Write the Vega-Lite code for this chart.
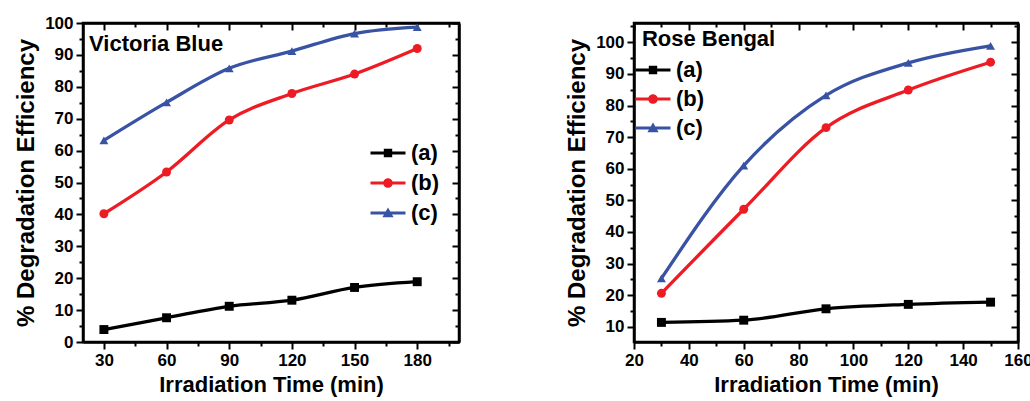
{
  "$schema": "https://vega.github.io/schema/vega-lite/v6.json",
  "autosize": {"type": "pad"},
  "padding": {"left": 13, "top": 12, "right": 0, "bottom": 0},
  "background": "white",
  "datasets": {
    "d": [
      {"dye": "VB", "series": "(a)", "time": 30, "eff": 3.9},
      {"dye": "VB", "series": "(a)", "time": 60, "eff": 7.6},
      {"dye": "VB", "series": "(a)", "time": 90, "eff": 11.2},
      {"dye": "VB", "series": "(a)", "time": 120, "eff": 13.1},
      {"dye": "VB", "series": "(a)", "time": 150, "eff": 17.1},
      {"dye": "VB", "series": "(a)", "time": 180, "eff": 18.9},
      {"dye": "VB", "series": "(b)", "time": 30, "eff": 40.2},
      {"dye": "VB", "series": "(b)", "time": 60, "eff": 53.3},
      {"dye": "VB", "series": "(b)", "time": 90, "eff": 69.6},
      {"dye": "VB", "series": "(b)", "time": 120, "eff": 77.9},
      {"dye": "VB", "series": "(b)", "time": 150, "eff": 84.0},
      {"dye": "VB", "series": "(b)", "time": 180, "eff": 92.0},
      {"dye": "VB", "series": "(c)", "time": 30, "eff": 63.2},
      {"dye": "VB", "series": "(c)", "time": 60, "eff": 75.1},
      {"dye": "VB", "series": "(c)", "time": 90, "eff": 85.8},
      {"dye": "VB", "series": "(c)", "time": 120, "eff": 91.2},
      {"dye": "VB", "series": "(c)", "time": 150, "eff": 96.7},
      {"dye": "VB", "series": "(c)", "time": 180, "eff": 98.7},
      {"dye": "RB", "series": "(a)", "time": 30, "eff": 11.4},
      {"dye": "RB", "series": "(a)", "time": 60, "eff": 12.1},
      {"dye": "RB", "series": "(a)", "time": 90, "eff": 15.7},
      {"dye": "RB", "series": "(a)", "time": 120, "eff": 17.1},
      {"dye": "RB", "series": "(a)", "time": 150, "eff": 17.8},
      {"dye": "RB", "series": "(b)", "time": 30, "eff": 20.6},
      {"dye": "RB", "series": "(b)", "time": 60, "eff": 47.2},
      {"dye": "RB", "series": "(b)", "time": 90, "eff": 73.0},
      {"dye": "RB", "series": "(b)", "time": 120, "eff": 84.9},
      {"dye": "RB", "series": "(b)", "time": 150, "eff": 93.7},
      {"dye": "RB", "series": "(c)", "time": 30, "eff": 25.3},
      {"dye": "RB", "series": "(c)", "time": 60, "eff": 61.0},
      {"dye": "RB", "series": "(c)", "time": 90, "eff": 83.2},
      {"dye": "RB", "series": "(c)", "time": 120, "eff": 93.5},
      {"dye": "RB", "series": "(c)", "time": 150, "eff": 98.9}
    ]
  },
  "config": {
    "font": "Liberation Sans",
    "view": {"stroke": "#000", "strokeWidth": 2.5},
    "axis": {
      "grid": false,
      "domainColor": "#000",
      "domainWidth": 2.5,
      "tickColor": "#000",
      "tickWidth": 2,
      "labelFont": "Liberation Sans",
      "labelFontSize": 17,
      "labelFontWeight": "bold",
      "labelColor": "#000",
      "titleFont": "Liberation Sans",
      "titleFontWeight": "bold",
      "titleColor": "#000",
      "labelPadding": 3,
      "labelFlush": false,
      "labelOverlap": false
    },
    "axisX": {"titleFontSize": 22, "titlePadding": 6},
    "axisY": {"titleFontSize": 24, "titlePadding": 6},
    "legend": {
      "title": null,
      "padding": 0,
      "symbolSize": 306,
      "labelOffset": 12,
      "labelFont": "Liberation Sans",
      "labelFontSize": 22,
      "labelFontWeight": "bold",
      "labelColor": "#000",
      "symbolStrokeWidth": 0,
      "symbolOpacity": 1
    }
  },
  "spacing": 102,
  "resolve": {"scale": {"x": "independent", "y": "independent", "color": "independent", "shape": "independent"}},
  "hconcat": [
    {
      "width": 376,
      "height": 319,
      "data": {"name": "d"},
      "resolve": {"axis": {"x": "independent", "y": "independent"}, "scale": {"shape": "independent", "color": "independent"}},
      "layer": [
        {
          "transform": [{"filter": "datum.dye == 'VB'"}],
          "mark": {"type": "line", "interpolate": "monotone", "strokeWidth": 3.3},
          "encoding": {
            "x": {"field": "time", "type": "quantitative", "scale": {"domain": [20, 200], "nice": false, "zero": false},
              "axis": {"title": "Irradiation Time (min)", "values": [30,45,60,75,90,105,120,135,150,165,180,195],
                "labelExpr": "datum.value % 30 === 0 ? datum.label : ''",
                "tickSize": {"condition": {"test": "datum.value % 30 === 0", "value": 7}, "value": 4}}},
            "y": {"field": "eff", "type": "quantitative", "scale": {"domain": [0, 100], "nice": false},
              "axis": {"title": "% Degradation Efficiency", "values": [0,5,10,15,20,25,30,35,40,45,50,55,60,65,70,75,80,85,90,95,100],
                "labelExpr": "datum.value % 10 === 0 ? datum.label : ''",
                "tickSize": {"condition": {"test": "datum.value % 10 === 0", "value": 7}, "value": 4}}},
            "color": {"field": "series", "type": "nominal",
              "scale": {"domain": ["(a)", "(b)", "(c)"], "range": ["#000000", "#ed1c24", "#3953a4"]},
              "legend": null}
          }
        },
        {
          "transform": [{"filter": "datum.dye == 'VB'"}],
          "mark": {"type": "point", "filled": true, "size": 80, "opacity": 1},
          "encoding": {
            "x": {"field": "time", "type": "quantitative", "axis": null},
            "y": {"field": "eff", "type": "quantitative", "axis": null},
            "color": {"field": "series", "type": "nominal",
              "scale": {"domain": ["(a)", "(b)", "(c)"], "range": ["#000000", "#ed1c24", "#3953a4"]}, "legend": null},
            "shape": {"field": "series", "type": "nominal",
              "scale": {"domain": ["(a)", "(b)", "(c)"], "range": ["square", "circle", "triangle-up"]}, "legend": null}
          }
        },
        {
          "transform": [{"filter": "datum.dye == 'none'"}],
          "mark": {"type": "point", "filled": true, "opacity": 1},
          "encoding": {
            "x": {"field": "time", "type": "quantitative", "axis": null},
            "y": {"field": "eff", "type": "quantitative", "axis": null},
            "color": {"field": "series", "type": "nominal",
              "scale": {"domain": ["(a)", "(b)", "(c)"], "range": ["#000000", "#ed1c24", "#3953a4"]},
              "legend": {"orient": "none", "legendX": 294, "legendY": 119, "rowPadding": 8}},
            "shape": {"field": "series", "type": "nominal",
              "scale": {"domain": ["(a)", "(b)", "(c)"], "range": [
                "M-2,-0.18H2V0.18H-2Z M-0.48,-0.48H0.48V0.48H-0.48Z",
                "M-2,-0.18H2V0.18H-2Z M-0.55,0A0.55,0.55,0,1,1,0.55,0A0.55,0.55,0,1,1,-0.55,0Z",
                "M-2,-0.18H2V0.18H-2Z M0,-0.62L0.64,0.48H-0.64Z"]},
              "legend": {"orient": "none", "legendX": 294, "legendY": 119, "rowPadding": 8}}
          }
        },
        {
          "data": {"values": [{"label": "Victoria Blue"}]},
          "mark": {"type": "text", "align": "left", "baseline": "middle", "fontSize": 22, "fontWeight": "bold", "font": "Liberation Sans", "color": "#000"},
          "encoding": {
            "x": {"datum": 22.9, "type": "quantitative",
              "axis": {"orient": "top", "title": null, "labels": false, "values": [30,45,60,75,90,105,120,135,150,165,180,195],
                "tickSize": {"condition": {"test": "datum.value % 30 === 0", "value": -7}, "value": -4}}},
            "y": {"datum": 93.4, "type": "quantitative",
              "axis": {"orient": "right", "title": null, "labels": false, "values": [0,5,10,15,20,25,30,35,40,45,50,55,60,65,70,75,80,85,90,95,100],
                "tickSize": {"condition": {"test": "datum.value % 10 === 0", "value": -7}, "value": -4}}},
            "text": {"field": "label"}
          }
        }
      ]
    },
    {
      "width": 384,
      "height": 319,
      "data": {"name": "d"},
      "resolve": {"axis": {"x": "independent", "y": "independent"}, "scale": {"shape": "independent", "color": "independent"}},
      "layer": [
        {
          "transform": [{"filter": "datum.dye == 'RB'"}],
          "mark": {"type": "line", "interpolate": "monotone", "strokeWidth": 3.3},
          "encoding": {
            "x": {"field": "time", "type": "quantitative", "scale": {"domain": [20, 160], "nice": false, "zero": false},
              "axis": {"title": "Irradiation Time (min)", "values": [20,30,40,50,60,70,80,90,100,110,120,130,140,150,160],
                "labelExpr": "datum.value % 20 === 0 ? datum.label : ''",
                "tickSize": {"condition": {"test": "datum.value % 20 === 0", "value": 7}, "value": 4}}},
            "y": {"field": "eff", "type": "quantitative", "scale": {"domain": [5.2, 106.1], "nice": false, "zero": false},
              "axis": {"title": "% Degradation Efficiency", "values": [10,15,20,25,30,35,40,45,50,55,60,65,70,75,80,85,90,95,100,105],
                "labelExpr": "datum.value % 10 === 0 ? datum.label : ''",
                "tickSize": {"condition": {"test": "datum.value % 10 === 0", "value": 7}, "value": 4}}},
            "color": {"field": "series", "type": "nominal",
              "scale": {"domain": ["(a)", "(b)", "(c)"], "range": ["#000000", "#ed1c24", "#3953a4"]},
              "legend": null}
          }
        },
        {
          "transform": [{"filter": "datum.dye == 'RB'"}],
          "mark": {"type": "point", "filled": true, "size": 80, "opacity": 1},
          "encoding": {
            "x": {"field": "time", "type": "quantitative", "axis": null},
            "y": {"field": "eff", "type": "quantitative", "axis": null},
            "color": {"field": "series", "type": "nominal",
              "scale": {"domain": ["(a)", "(b)", "(c)"], "range": ["#000000", "#ed1c24", "#3953a4"]}, "legend": null},
            "shape": {"field": "series", "type": "nominal",
              "scale": {"domain": ["(a)", "(b)", "(c)"], "range": ["square", "circle", "triangle-up"]}, "legend": null}
          }
        },
        {
          "transform": [{"filter": "datum.dye == 'none'"}],
          "mark": {"type": "point", "filled": true, "opacity": 1},
          "encoding": {
            "x": {"field": "time", "type": "quantitative", "axis": null},
            "y": {"field": "eff", "type": "quantitative", "axis": null},
            "color": {"field": "series", "type": "nominal",
              "scale": {"domain": ["(a)", "(b)", "(c)"], "range": ["#000000", "#ed1c24", "#3953a4"]},
              "legend": {"orient": "none", "legendX": 8, "legendY": 36, "rowPadding": 7}},
            "shape": {"field": "series", "type": "nominal",
              "scale": {"domain": ["(a)", "(b)", "(c)"], "range": [
                "M-2,-0.18H2V0.18H-2Z M-0.48,-0.48H0.48V0.48H-0.48Z",
                "M-2,-0.18H2V0.18H-2Z M-0.55,0A0.55,0.55,0,1,1,0.55,0A0.55,0.55,0,1,1,-0.55,0Z",
                "M-2,-0.18H2V0.18H-2Z M0,-0.62L0.64,0.48H-0.64Z"]},
              "legend": {"orient": "none", "legendX": 8, "legendY": 36, "rowPadding": 7}}
          }
        },
        {
          "data": {"values": [{"label": "Rose Bengal"}]},
          "mark": {"type": "text", "align": "left", "baseline": "middle", "fontSize": 22, "fontWeight": "bold", "font": "Liberation Sans", "color": "#000"},
          "encoding": {
            "x": {"datum": 22.9, "type": "quantitative",
              "axis": {"orient": "top", "title": null, "labels": false, "values": [20,30,40,50,60,70,80,90,100,110,120,130,140,150,160],
                "tickSize": {"condition": {"test": "datum.value % 20 === 0", "value": -7}, "value": -4}}},
            "y": {"datum": 101, "type": "quantitative",
              "axis": {"orient": "right", "title": null, "labels": false, "values": [10,15,20,25,30,35,40,45,50,55,60,65,70,75,80,85,90,95,100,105],
                "tickSize": {"condition": {"test": "datum.value % 10 === 0", "value": -7}, "value": -4}}},
            "text": {"field": "label"}
          }
        }
      ]
    }
  ]
}
